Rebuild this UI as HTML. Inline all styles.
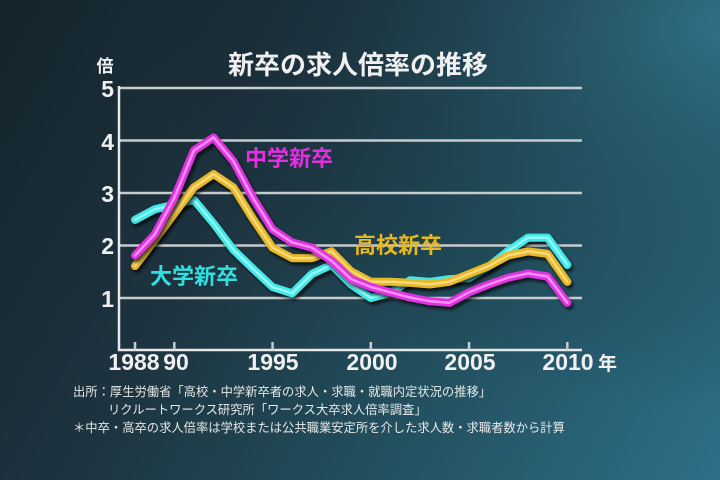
<!DOCTYPE html>
<html><head><meta charset="utf-8"><style>
html,body{margin:0;padding:0}
body{width:720px;height:480px;overflow:hidden;background:linear-gradient(120deg,#14232b 0%,#1d3440 35%,#22505f 65%,#2f6f88 100%);position:relative;font-family:"Liberation Sans","Noto Sans CJK JP",sans-serif}
svg{position:absolute;left:0;top:0}
</style></head><body>
<svg width="720" height="480" viewBox="0 0 720 480" id="s">
<defs>
<radialGradient id="rg" cx="1" cy="0.05" r="0.8"><stop offset="0" stop-color="#3f8aa8" stop-opacity="0.45"/><stop offset="1" stop-color="#000" stop-opacity="0"/></radialGradient>
<filter id="sh" x="-10%" y="-10%" width="120%" height="120%"><feGaussianBlur in="SourceAlpha" stdDeviation="1.5"/><feOffset dx="2" dy="3"/><feComponentTransfer><feFuncA type="linear" slope="0.7"/></feComponentTransfer><feMerge><feMergeNode/><feMergeNode in="SourceGraphic"/></feMerge></filter>
</defs>
<rect width="720" height="480" fill="url(#rg)"/>
<g stroke="#c8cccd" stroke-width="2.5" fill="none">
<line x1="119" y1="88" x2="582" y2="88"/><line x1="119" y1="193" x2="582" y2="193"/><line x1="119" y1="140.5" x2="582" y2="140.5"/><line x1="119" y1="245.5" x2="582" y2="245.5"/><line x1="119" y1="298" x2="582" y2="298"/>
<polyline points="119,86 119,350 582,350" stroke="#e8e8e8"/>
<g id="ticks"></g>
</g>
<g fill="#f0f0f0" font-weight="bold" font-size="23" text-anchor="end">
<text x="114" y="97">5</text><text x="114" y="150">4</text><text x="114" y="202">3</text><text x="114" y="254">2</text><text x="114" y="307">1</text>
</g>
<text x="105" y="72" fill="#f0f0f0" font-weight="bold" font-size="17" text-anchor="middle">倍</text>
<text x="358" y="74" fill="#f0f0f0" font-weight="bold" font-size="26" text-anchor="middle">新卒の求人倍率の推移</text>
<g fill="#f0f0f0" font-weight="bold" font-size="23" text-anchor="middle">
<text x="134" y="370">1988</text><text x="176" y="370">90</text><text x="273" y="370">1995</text><text x="372" y="370">2000</text><text x="470" y="370">2005</text><text x="568" y="370">2010</text>
</g>
<text x="598" y="370" fill="#f0f0f0" font-weight="bold" font-size="19">年</text>
<g id="lines"></g>
<text x="245" y="166" fill="#e030e0" font-weight="bold" font-size="22">中学新卒</text>
<text x="354" y="253" fill="#e8b820" font-weight="bold" font-size="22">高校新卒</text>
<text x="150" y="284" fill="#30e0e0" font-weight="bold" font-size="22">大学新卒</text>
<g fill="#e8e8e8" font-size="12.3">
<text x="73" y="396">出所：厚生労働省「高校・中学新卒者の求人・求職・就職内定状況の推移」</text>
<text x="108" y="414">リクルートワークス研究所「ワークス大卒求人倍率調査」</text>
<text x="73" y="432">＊中卒・高卒の求人倍率は学校または公共職業安定所を介した求人数・求職者数から計算</text>
</g>
</svg>
<script>
var X=function(y){return 135+(y-1988)*19.65},Y=function(v){return 350-v*52.5};
var t='';[1988,1990,1995,2000,2005,2010].forEach(function(y){t+='<line x1="'+X(y)+'" y1="342" x2="'+X(y)+'" y2="350"/>'});
document.getElementById('ticks').innerHTML=t;
var d={
c:[2.48,2.68,2.77,2.86,2.41,1.91,1.55,1.20,1.08,1.45,1.62,1.25,0.99,1.09,1.33,1.30,1.35,1.37,1.59,1.89,2.14,2.14,1.62],
y:[1.6,2.1,2.6,3.1,3.35,3.1,2.5,1.95,1.75,1.75,1.88,1.5,1.3,1.3,1.28,1.25,1.3,1.45,1.6,1.8,1.88,1.83,1.3],
m:[1.8,2.2,2.9,3.8,4.05,3.6,2.9,2.3,2.05,1.95,1.7,1.35,1.2,1.1,1.0,0.93,0.9,1.1,1.25,1.38,1.46,1.4,0.9]};
var col={c:['#40e8e8','#b8ffff'],y:['#e8b828','#ffe8a0'],m:['#e030e0','#ffb8ff']};
var h='';['c','y','m'].forEach(function(k){var p=d[k].map(function(v,i){return X(1988+i).toFixed(1)+','+Y(v).toFixed(1)}).join(' ');
h+='<g filter="url(#sh)"><polyline points="'+p+'" fill="none" stroke="'+col[k][0]+'" stroke-width="8" stroke-linejoin="round" stroke-linecap="round"/><polyline points="'+p+'" fill="none" stroke="'+col[k][1]+'" stroke-width="2.5" stroke-linejoin="round" stroke-linecap="round" opacity="0.7"/></g>'});
document.getElementById('lines').innerHTML=h;
</script>
</body></html>
